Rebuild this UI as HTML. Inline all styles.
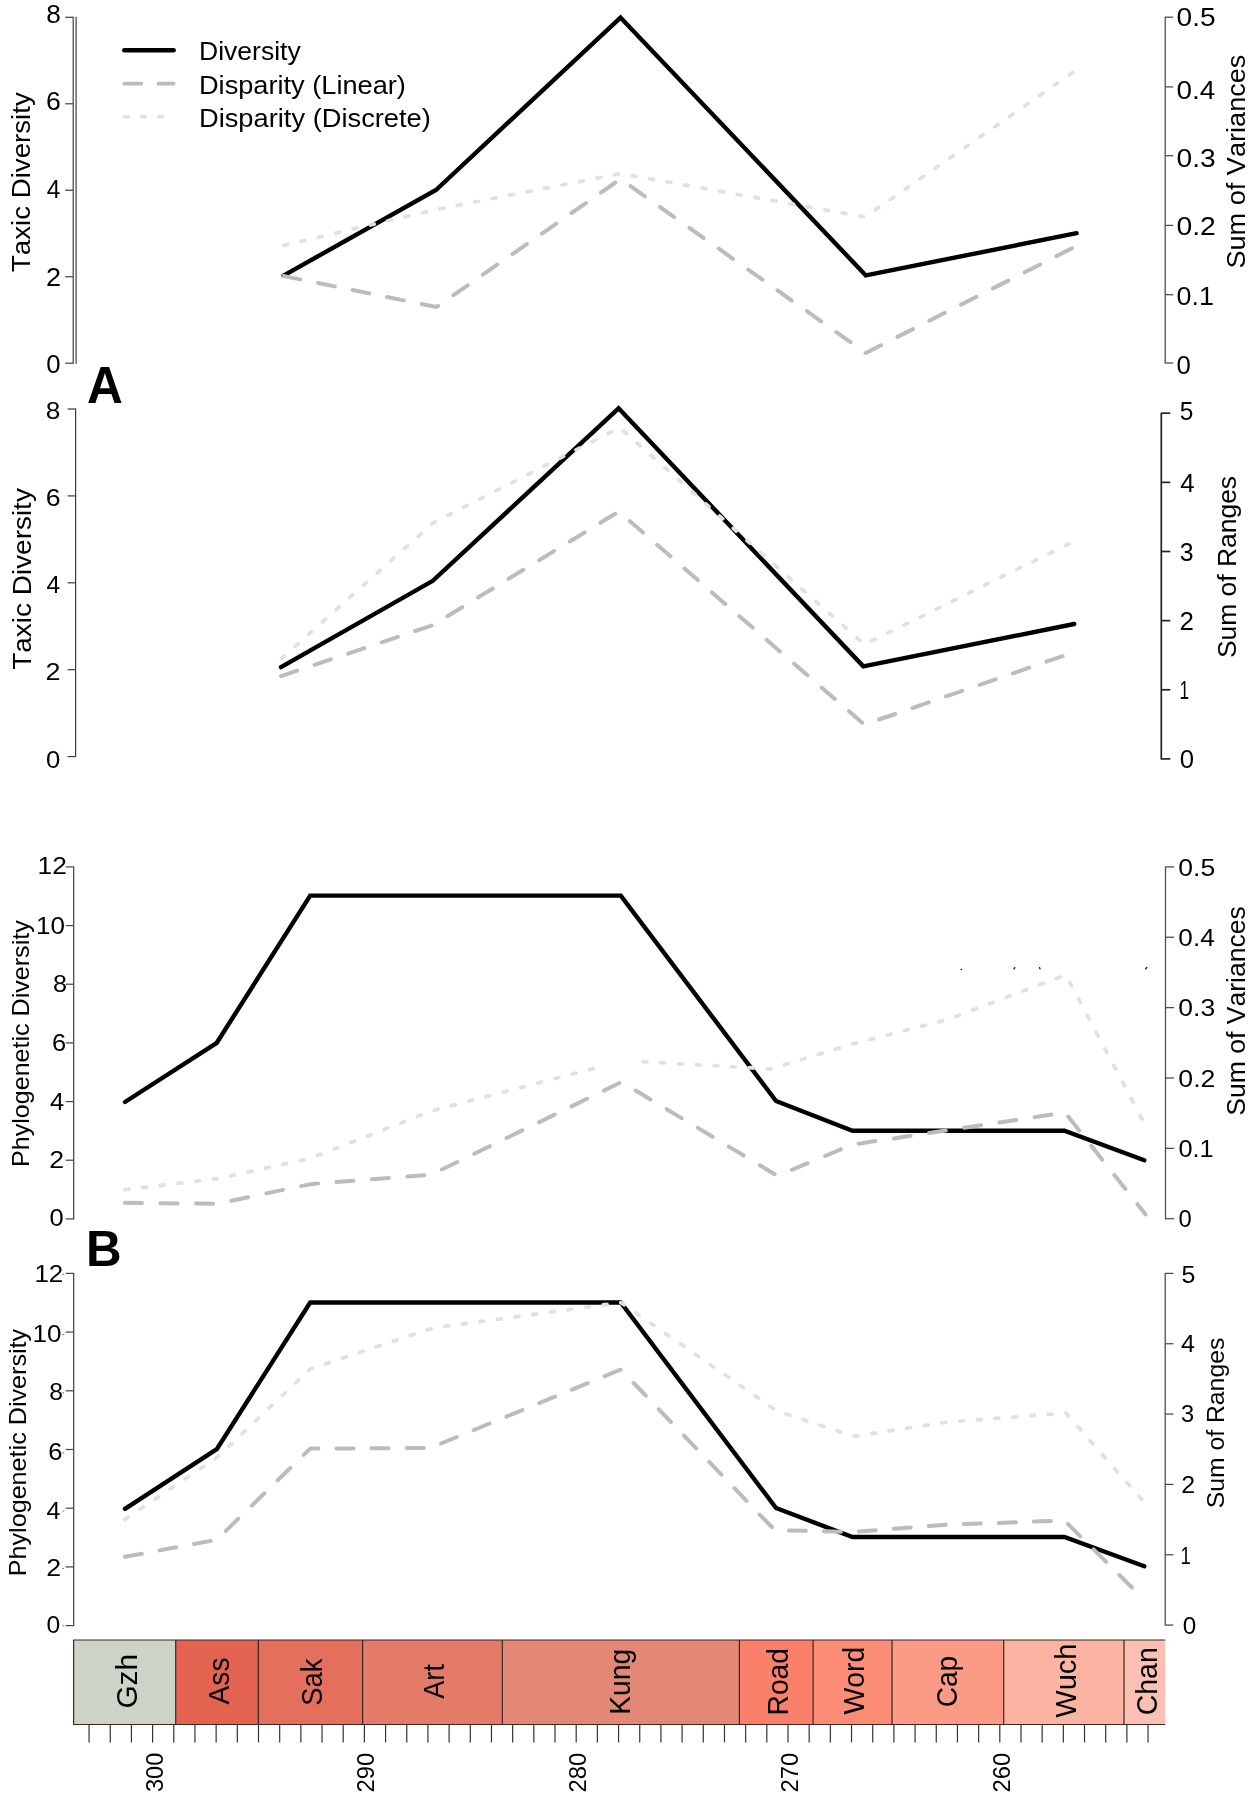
<!DOCTYPE html>
<html><head><meta charset="utf-8"><title>Figure</title>
<style>
html,body{margin:0;padding:0;background:#fff;}
body{width:1250px;height:1798px;overflow:hidden;font-family:"Liberation Sans",sans-serif;}
svg{display:block;will-change:transform;}
svg text{font-family:"Liberation Sans",sans-serif;font-kerning:none;}
</style></head><body>
<svg width="1250" height="1798" viewBox="0 0 1250 1798">
<rect width="1250" height="1798" fill="#fff"/>
<line x1="76.1" y1="16.8" x2="76.1" y2="363.7" stroke="#484848" stroke-width="1.25"/>
<line x1="73.19999999999999" y1="16.8" x2="73.19999999999999" y2="363.7" stroke="#484848" stroke-width="1.25"/>
<line x1="65.19999999999999" y1="17.3" x2="73.19999999999999" y2="17.3" stroke="#484848" stroke-width="1.25"/>
<text x="46.16" y="22.88" font-size="25.5" textLength="14.58" lengthAdjust="spacingAndGlyphs" fill="#000">8</text>
<line x1="65.19999999999999" y1="103.77499999999999" x2="73.19999999999999" y2="103.77499999999999" stroke="#484848" stroke-width="1.25"/>
<text x="45.95" y="110.48" font-size="25.5" textLength="14.83" lengthAdjust="spacingAndGlyphs" fill="#000">6</text>
<line x1="65.19999999999999" y1="190.25" x2="73.19999999999999" y2="190.25" stroke="#484848" stroke-width="1.25"/>
<text x="46.74" y="198.08" font-size="25.5" textLength="13.58" lengthAdjust="spacingAndGlyphs" fill="#000">4</text>
<line x1="65.19999999999999" y1="276.72499999999997" x2="73.19999999999999" y2="276.72499999999997" stroke="#484848" stroke-width="1.25"/>
<text x="45.94" y="285.68" font-size="25.5" textLength="15.02" lengthAdjust="spacingAndGlyphs" fill="#000">2</text>
<line x1="65.19999999999999" y1="363.2" x2="73.19999999999999" y2="363.2" stroke="#484848" stroke-width="1.25"/>
<text x="46.29" y="373.28" font-size="25.5" textLength="14.31" lengthAdjust="spacingAndGlyphs" fill="#000">0</text>
<line x1="1165.2" y1="16.7" x2="1165.2" y2="363.5" stroke="#484848" stroke-width="1.25"/>
<line x1="1165.2" y1="17.2" x2="1173.2" y2="17.2" stroke="#484848" stroke-width="1.25"/>
<text x="1176.50" y="26.28" font-size="25.5" textLength="39.08" lengthAdjust="spacingAndGlyphs" fill="#000">0.5</text>
<line x1="1165.2" y1="86.9" x2="1173.2" y2="86.9" stroke="#484848" stroke-width="1.25"/>
<text x="1176.51" y="98.58" font-size="25.5" textLength="38.70" lengthAdjust="spacingAndGlyphs" fill="#000">0.4</text>
<line x1="1165.2" y1="155.7" x2="1173.2" y2="155.7" stroke="#484848" stroke-width="1.25"/>
<text x="1176.50" y="166.78" font-size="25.5" textLength="39.14" lengthAdjust="spacingAndGlyphs" fill="#000">0.3</text>
<line x1="1165.2" y1="225.4" x2="1173.2" y2="225.4" stroke="#484848" stroke-width="1.25"/>
<text x="1176.49" y="235.28" font-size="25.5" textLength="39.33" lengthAdjust="spacingAndGlyphs" fill="#000">0.2</text>
<line x1="1165.2" y1="294.7" x2="1173.2" y2="294.7" stroke="#484848" stroke-width="1.25"/>
<text x="1176.55" y="304.98" font-size="25.5" textLength="37.36" lengthAdjust="spacingAndGlyphs" fill="#000">0.1</text>
<line x1="1165.2" y1="363.0" x2="1173.2" y2="363.0" stroke="#484848" stroke-width="1.25"/>
<text x="1176.59" y="373.88" font-size="25.5" textLength="14.31" lengthAdjust="spacingAndGlyphs" fill="#000">0</text>
<text transform="translate(30.10 272.02) rotate(-90)" x="0" y="0" font-size="26.5" textLength="179.78" lengthAdjust="spacingAndGlyphs" fill="#000">Taxic Diversity</text>
<text transform="translate(1244.70 268.53) rotate(-90)" x="0" y="0" font-size="26.5" textLength="213.91" lengthAdjust="spacingAndGlyphs" fill="#000">Sum of Variances</text>
<polyline points="283.5,275.6 436.0,190.0 620.5,17.6 865.8,275.4 1076.6,233.2" fill="none" stroke="#000" stroke-width="4.4" stroke-linejoin="miter" stroke-linecap="round"/>
<path d="M283.5 276.0L300.2 279.4M318.0 283.0L334.8 286.4M352.6 290.0L369.3 293.4M387.1 297.0L403.8 300.4M421.7 304.0L436.4 307.0L438.1 305.8M453.4 295.2L467.7 285.3M482.9 274.7L497.2 264.7M512.5 254.1L526.8 244.2M542.0 233.6L556.3 223.6M571.6 213.0L585.9 203.1M601.1 192.5L615.4 182.5M630.6 186.2L644.8 196.3M660.0 207.0L674.2 217.1M689.4 227.9L703.6 238.0M718.8 248.7L733.0 258.8M748.2 269.6L762.4 279.6M777.5 290.4L791.7 300.5M806.9 311.2L821.1 321.3M836.3 332.1L850.5 342.2M865.7 352.9L865.8 353.0L881.0 345.3M897.5 336.9L912.9 329.1M929.3 320.7L944.7 312.9M961.1 304.6L976.5 296.8M992.9 288.4L1008.3 280.6M1024.7 272.3L1040.1 264.5M1056.5 256.1L1071.9 248.3" fill="none" stroke="#bcbcbc" stroke-width="4.0" stroke-linejoin="round" stroke-linecap="round"/>
<path d="M283.7 245.4L287.5 244.5M301.0 241.3L304.9 240.4M318.4 237.2L322.2 236.4M335.7 233.2L339.5 232.3M353.1 229.1L356.9 228.2M370.4 225.0L374.2 224.1M387.8 220.9L391.6 220.0M405.1 216.9L408.9 216.0M422.5 212.8L426.3 211.9M439.8 208.9L443.7 208.1M457.3 205.4L461.1 204.7M474.8 202.0L478.6 201.3M492.2 198.6L496.1 197.9M509.7 195.2L513.5 194.5M527.2 191.8L531.0 191.1M544.6 188.4L548.5 187.7M562.1 185.0L565.9 184.2M579.6 181.6L583.4 180.8M597.0 178.2L600.9 177.4M614.5 174.8L618.3 174.0M632.0 175.6L635.8 176.3M649.5 178.7L653.4 179.4M667.0 181.9L670.9 182.5M684.5 185.0L688.4 185.6M702.1 188.1L705.9 188.7M719.6 191.2L723.4 191.9M737.1 194.3L740.9 195.0M754.6 197.4L758.4 198.1M772.1 200.5L776.0 201.2M789.6 203.6L793.5 204.3M807.1 206.7L811.0 207.4M824.7 209.8L828.5 210.5M842.2 212.9L846.0 213.6M859.7 216.0L863.5 216.7M875.4 209.9L878.7 207.6M890.3 199.5L893.6 197.2M905.3 189.1L908.5 186.8M920.2 178.7L923.5 176.4M935.1 168.3L938.4 166.0M950.0 157.9L953.3 155.6M964.9 147.5L968.2 145.2M979.8 137.1L983.1 134.9M994.8 126.8L998.0 124.5M1009.7 116.4L1013.0 114.1M1024.6 106.0L1027.9 103.7M1039.5 95.6L1042.8 93.3M1054.4 85.2L1057.7 82.9M1069.3 74.8L1072.6 72.5" fill="none" stroke="#e1e1e1" stroke-width="3.8" stroke-linejoin="round" stroke-linecap="round"/>
<line x1="124.3" y1="50.2" x2="173.6" y2="50.2" stroke="#000" stroke-width="4.6" stroke-linecap="round"/>
<path d="M124.3 83.7L141.2 83.7M158.6 83.7L173.6 83.7" fill="none" stroke="#bcbcbc" stroke-width="3.8" stroke-linecap="round"/>
<path d="M124.3 116.7L128.2 116.7M141.5 116.7L145.4 116.7M158.7 116.7L162.6 116.7" fill="none" stroke="#e1e1e1" stroke-width="3.5" stroke-linecap="round"/>
<text x="199.02" y="60.20" font-size="26" textLength="101.73" lengthAdjust="spacingAndGlyphs" fill="#000">Diversity</text>
<text x="198.97" y="94.20" font-size="26" textLength="206.91" lengthAdjust="spacingAndGlyphs" fill="#000">Disparity (Linear)</text>
<text x="198.96" y="127.10" font-size="26" textLength="231.93" lengthAdjust="spacingAndGlyphs" fill="#000">Disparity (Discrete)</text>
<text x="86.96" y="403.00" font-size="51" textLength="35.84" lengthAdjust="spacingAndGlyphs" font-weight="bold" fill="#000">A</text>
<line x1="75.6" y1="408.5" x2="75.6" y2="757.1" stroke="#3a3a3a" stroke-width="1.2"/>
<line x1="67.6" y1="409.0" x2="75.6" y2="409.0" stroke="#3a3a3a" stroke-width="1.2"/>
<text x="45.86" y="418.82" font-size="24.5" textLength="14.58" lengthAdjust="spacingAndGlyphs" fill="#000">8</text>
<line x1="67.6" y1="495.9" x2="75.6" y2="495.9" stroke="#3a3a3a" stroke-width="1.2"/>
<text x="45.65" y="506.02" font-size="24.5" textLength="14.83" lengthAdjust="spacingAndGlyphs" fill="#000">6</text>
<line x1="67.6" y1="582.8" x2="75.6" y2="582.8" stroke="#3a3a3a" stroke-width="1.2"/>
<text x="46.44" y="593.22" font-size="24.5" textLength="13.58" lengthAdjust="spacingAndGlyphs" fill="#000">4</text>
<line x1="67.6" y1="669.7" x2="75.6" y2="669.7" stroke="#3a3a3a" stroke-width="1.2"/>
<text x="45.64" y="680.42" font-size="24.5" textLength="15.02" lengthAdjust="spacingAndGlyphs" fill="#000">2</text>
<line x1="67.6" y1="756.6" x2="75.6" y2="756.6" stroke="#3a3a3a" stroke-width="1.2"/>
<text x="45.99" y="767.62" font-size="24.5" textLength="14.31" lengthAdjust="spacingAndGlyphs" fill="#000">0</text>
<line x1="1161.3" y1="412.7" x2="1161.3" y2="759.4" stroke="#222" stroke-width="1.7"/>
<line x1="1161.3" y1="413.2" x2="1170.3" y2="413.2" stroke="#222" stroke-width="1.7"/>
<text x="1179.82" y="420.01" font-size="25.3" textLength="13.61" lengthAdjust="spacingAndGlyphs" fill="#000">5</text>
<line x1="1161.3" y1="482.34" x2="1170.3" y2="482.34" stroke="#222" stroke-width="1.7"/>
<text x="1180.21" y="492.01" font-size="25.3" textLength="14.35" lengthAdjust="spacingAndGlyphs" fill="#000">4</text>
<line x1="1161.3" y1="551.48" x2="1170.3" y2="551.48" stroke="#222" stroke-width="1.7"/>
<text x="1179.85" y="561.11" font-size="25.3" textLength="13.84" lengthAdjust="spacingAndGlyphs" fill="#000">3</text>
<line x1="1161.3" y1="620.62" x2="1170.3" y2="620.62" stroke="#222" stroke-width="1.7"/>
<text x="1179.50" y="630.11" font-size="25.3" textLength="14.41" lengthAdjust="spacingAndGlyphs" fill="#000">2</text>
<line x1="1161.3" y1="689.76" x2="1170.3" y2="689.76" stroke="#222" stroke-width="1.7"/>
<text x="1179.47" y="699.41" font-size="25.3" textLength="9.67" lengthAdjust="spacingAndGlyphs" fill="#000">1</text>
<line x1="1161.3" y1="758.9" x2="1170.3" y2="758.9" stroke="#222" stroke-width="1.7"/>
<text x="1179.79" y="768.01" font-size="25.3" textLength="14.31" lengthAdjust="spacingAndGlyphs" fill="#000">0</text>
<text transform="translate(30.60 669.73) rotate(-90)" x="0" y="0" font-size="26.2" textLength="181.58" lengthAdjust="spacingAndGlyphs" fill="#000">Taxic Diversity</text>
<text transform="translate(1235.50 658.10) rotate(-90)" x="0" y="0" font-size="26.5" textLength="182.15" lengthAdjust="spacingAndGlyphs" fill="#000">Sum of Ranges</text>
<polyline points="281.0,667.2 432.8,580.8 618.6,408.3 863.3,666.3 1074.2,624.0" fill="none" stroke="#000" stroke-width="4.4" stroke-linejoin="miter" stroke-linecap="round"/>
<path d="M281.0 676.2L297.2 670.7M314.6 664.9L330.8 659.4M348.1 653.6L364.3 648.2M381.7 642.3L397.9 636.9M415.2 631.0L431.5 625.6M447.4 616.2L462.2 607.2M478.0 597.5L492.8 588.5M508.6 578.8L523.4 569.8M539.2 560.2L554.0 551.1M569.8 541.5L584.6 532.5M600.4 522.8L615.2 513.8M629.7 521.1L643.0 532.6M657.1 544.8L670.4 556.3M684.5 568.6L697.8 580.1M711.9 592.4L725.2 603.9M739.4 616.2L752.6 627.6M766.8 639.9L780.0 651.4M794.2 663.7L807.4 675.2M821.6 687.5L834.8 699.0M849.0 711.2L862.2 722.7M879.0 719.5L895.2 714.0M912.5 708.0L928.7 702.4M946.0 696.4L962.2 690.8M979.5 684.9L995.7 679.3M1013.0 673.3L1029.2 667.7M1046.4 661.7L1062.6 656.2" fill="none" stroke="#bcbcbc" stroke-width="4.0" stroke-linejoin="round" stroke-linecap="round"/>
<path d="M281.5 658.6L284.5 655.9M295.2 646.4L298.2 643.7M308.8 634.1L311.8 631.4M322.5 621.9L325.5 619.2M336.2 609.7L339.2 607.0M349.8 597.4L352.8 594.8M363.5 585.2L366.5 582.5M377.2 573.0L380.2 570.3M390.8 560.7L393.8 558.1M404.5 548.5L407.5 545.8M418.2 536.3L421.2 533.6M431.8 524.0L433.0 523.0L435.2 521.9M447.7 515.5L451.2 513.7M463.7 507.3L467.2 505.5M479.8 499.1L483.3 497.3M495.8 490.9L499.3 489.1M511.8 482.7L515.4 480.9M527.9 474.5L531.4 472.7M543.9 466.3L547.5 464.5M560.0 458.1L563.5 456.3M576.0 449.9L579.5 448.1M592.1 441.7L595.6 439.9M608.1 433.5L611.6 431.7M623.5 431.0L626.5 433.7M637.2 443.2L640.2 445.9M650.9 455.4L654.0 458.0M664.7 467.5L667.7 470.2M678.4 479.7L681.4 482.3M692.1 491.8L695.1 494.5M705.8 504.0L708.9 506.7M719.6 516.1L722.6 518.8M733.3 528.3L736.3 531.0M747.0 540.4L750.0 543.1M760.7 552.6L763.8 555.3M774.5 564.8L777.5 567.4M788.2 576.9L791.2 579.6M801.9 589.1L804.9 591.7M815.6 601.2L818.7 603.9M829.4 613.4L832.4 616.1M843.1 625.5L846.1 628.2M856.8 637.7L859.8 640.4M871.6 641.0L875.2 639.2M887.8 633.0L891.3 631.3M903.9 625.1L907.5 623.3M920.1 617.1L923.6 615.4M936.2 609.2L939.7 607.4M952.3 601.2L955.9 599.4M968.5 593.2L972.0 591.5M984.6 585.3L988.2 583.5M1000.8 577.3L1004.3 575.6M1016.9 569.4L1020.5 567.6M1033.1 561.4L1036.6 559.7M1049.2 553.4L1052.8 551.7M1065.4 545.5L1068.9 543.7" fill="none" stroke="#e1e1e1" stroke-width="3.8" stroke-linejoin="round" stroke-linecap="round"/>
<line x1="73.7" y1="866.4" x2="73.7" y2="1219.4" stroke="#484848" stroke-width="1.25"/>
<line x1="65.7" y1="866.9" x2="73.7" y2="866.9" stroke="#484848" stroke-width="1.25"/>
<text x="37.59" y="873.93" font-size="23.4" textLength="29.34" lengthAdjust="spacingAndGlyphs" fill="#000">12</text>
<line x1="65.7" y1="925.5666666666666" x2="73.7" y2="925.5666666666666" stroke="#484848" stroke-width="1.25"/>
<text x="36.01" y="933.73" font-size="23.4" textLength="29.00" lengthAdjust="spacingAndGlyphs" fill="#000">10</text>
<line x1="65.7" y1="984.2333333333333" x2="73.7" y2="984.2333333333333" stroke="#484848" stroke-width="1.25"/>
<text x="52.91" y="992.13" font-size="23.4" textLength="13.99" lengthAdjust="spacingAndGlyphs" fill="#000">8</text>
<line x1="65.7" y1="1042.9" x2="73.7" y2="1042.9" stroke="#484848" stroke-width="1.25"/>
<text x="51.90" y="1051.43" font-size="23.4" textLength="14.22" lengthAdjust="spacingAndGlyphs" fill="#000">6</text>
<line x1="65.7" y1="1101.5666666666666" x2="73.7" y2="1101.5666666666666" stroke="#484848" stroke-width="1.25"/>
<text x="50.12" y="1110.43" font-size="23.4" textLength="14.13" lengthAdjust="spacingAndGlyphs" fill="#000">4</text>
<line x1="65.7" y1="1160.2333333333333" x2="73.7" y2="1160.2333333333333" stroke="#484848" stroke-width="1.25"/>
<text x="49.25" y="1167.83" font-size="23.4" textLength="14.89" lengthAdjust="spacingAndGlyphs" fill="#000">2</text>
<line x1="65.7" y1="1218.9" x2="73.7" y2="1218.9" stroke="#484848" stroke-width="1.25"/>
<text x="49.60" y="1225.63" font-size="23.4" textLength="14.19" lengthAdjust="spacingAndGlyphs" fill="#000">0</text>
<line x1="1165.5" y1="866.4" x2="1165.5" y2="1219.2" stroke="#484848" stroke-width="1.25"/>
<line x1="1165.5" y1="866.9" x2="1174.0" y2="866.9" stroke="#484848" stroke-width="1.25"/>
<text x="1178.36" y="875.66" font-size="23.2" textLength="36.85" lengthAdjust="spacingAndGlyphs" fill="#000">0.5</text>
<line x1="1165.5" y1="937.26" x2="1174.0" y2="937.26" stroke="#484848" stroke-width="1.25"/>
<text x="1178.38" y="946.02" font-size="23.2" textLength="36.28" lengthAdjust="spacingAndGlyphs" fill="#000">0.4</text>
<line x1="1165.5" y1="1007.62" x2="1174.0" y2="1007.62" stroke="#484848" stroke-width="1.25"/>
<text x="1178.36" y="1016.38" font-size="23.2" textLength="36.90" lengthAdjust="spacingAndGlyphs" fill="#000">0.3</text>
<line x1="1165.5" y1="1077.98" x2="1174.0" y2="1077.98" stroke="#484848" stroke-width="1.25"/>
<text x="1178.36" y="1086.74" font-size="23.2" textLength="37.08" lengthAdjust="spacingAndGlyphs" fill="#000">0.2</text>
<line x1="1165.5" y1="1148.3400000000001" x2="1174.0" y2="1148.3400000000001" stroke="#484848" stroke-width="1.25"/>
<text x="1178.41" y="1157.10" font-size="23.2" textLength="35.23" lengthAdjust="spacingAndGlyphs" fill="#000">0.1</text>
<line x1="1165.5" y1="1218.7" x2="1174.0" y2="1218.7" stroke="#484848" stroke-width="1.25"/>
<text x="1178.47" y="1227.46" font-size="23.2" textLength="13.26" lengthAdjust="spacingAndGlyphs" fill="#000">0</text>
<text transform="translate(29.30 1166.96) rotate(-90)" x="0" y="0" font-size="23.7" textLength="246.71" lengthAdjust="spacingAndGlyphs" fill="#000">Phylogenetic Diversity</text>
<text transform="translate(1245.00 1115.81) rotate(-90)" x="0" y="0" font-size="26.5" textLength="209.67" lengthAdjust="spacingAndGlyphs" fill="#000">Sum of Variances</text>
<polyline points="125.0,1102.0 216.8,1042.8 310.2,895.6 620.8,895.6 776.0,1101.0 852.5,1130.8 1064.4,1130.8 1144.3,1160.2" fill="none" stroke="#000" stroke-width="4.4" stroke-linejoin="miter" stroke-linecap="round"/>
<path d="M125.0 1202.8L142.0 1203.0M160.5 1203.2L177.5 1203.4M196.1 1203.6L213.1 1203.8M231.4 1200.8L248.1 1197.3M266.3 1193.4L283.0 1189.9M301.2 1186.1L310.3 1184.2L318.0 1183.6M336.5 1182.1L353.4 1180.8M371.9 1179.3L388.9 1178.0M407.4 1176.5L424.3 1175.2M441.9 1169.5L457.4 1162.0M474.3 1153.8L489.8 1146.2M506.7 1138.0L522.2 1130.4M539.1 1122.2L554.6 1114.6M571.5 1106.4L587.0 1098.8M603.9 1090.6L619.4 1083.0M635.7 1090.5L650.5 1099.5M666.7 1109.2L681.6 1118.1M697.8 1127.9L712.6 1136.8M728.8 1146.6L743.7 1155.5M759.9 1165.3L774.7 1174.2M791.9 1169.8L807.7 1163.2M825.1 1156.0L840.9 1149.4M858.6 1143.7L875.4 1141.1M893.8 1138.4L910.6 1135.8M929.0 1133.1L945.8 1130.5M964.2 1127.8L981.1 1125.2M999.4 1122.5L1016.3 1119.9M1034.6 1117.2L1051.5 1114.6M1068.2 1116.6L1079.2 1130.6M1091.3 1145.8L1102.3 1159.8M1114.4 1175.0L1125.4 1189.0M1137.4 1204.2L1145.6 1214.5" fill="none" stroke="#bcbcbc" stroke-width="4.0" stroke-linejoin="round" stroke-linecap="round"/>
<path d="M125.0 1189.6L128.9 1189.1M142.6 1187.5L146.5 1187.1M160.3 1185.5L164.2 1185.0M177.9 1183.4L181.8 1182.9M195.6 1181.3L199.5 1180.9M213.2 1179.2L217.0 1178.8L217.1 1178.8M230.7 1175.8L234.5 1175.0M248.1 1172.0L251.9 1171.2M265.5 1168.2L269.3 1167.4M282.9 1164.4L286.7 1163.6M300.3 1160.6L304.1 1159.8M317.4 1155.6L321.0 1154.2M334.1 1149.1L337.7 1147.7M350.8 1142.6L354.4 1141.2M367.4 1136.1L371.1 1134.7M384.1 1129.6L387.8 1128.1M400.8 1123.1L404.5 1121.6M417.5 1116.5L421.2 1115.1M434.3 1110.2L438.0 1109.2M451.5 1105.7L455.3 1104.7M468.8 1101.2L472.6 1100.2M486.0 1096.7L489.8 1095.7M503.3 1092.1L507.1 1091.2M520.5 1087.6L524.3 1086.6M537.8 1083.1L541.6 1082.1M555.0 1078.6L558.8 1077.6M572.3 1074.1L576.1 1073.1M589.5 1069.6L593.3 1068.6" fill="none" stroke="#e1e1e1" stroke-width="3.8" stroke-linejoin="round" stroke-linecap="round"/>
<path d="M643.0 1061.6L646.9 1061.8M660.7 1062.6L664.6 1062.8M678.4 1063.6L682.3 1063.9M696.2 1064.7L700.1 1064.9M713.9 1065.7L717.8 1065.9M731.6 1066.7L735.5 1066.9M749.3 1067.7L753.2 1068.0M767.1 1068.8L771.0 1069.0M784.3 1064.9L788.0 1063.8M801.4 1059.7L805.1 1058.5M818.4 1054.4L822.2 1053.3M835.5 1049.2L839.3 1048.1M852.6 1044.0L856.4 1043.0M869.9 1039.5L873.7 1038.6M887.1 1035.1L890.9 1034.1M904.4 1030.7L908.2 1029.7M921.7 1026.2L925.5 1025.3M938.9 1021.8L942.7 1020.8M955.9 1016.4L959.6 1015.0M972.7 1010.1L976.4 1008.7M989.5 1003.8L993.1 1002.4M1006.2 997.4L1009.9 996.0M1023.0 991.1L1026.6 989.7M1039.7 984.8L1043.4 983.4M1056.5 978.4L1060.1 977.0M1069.7 982.3L1071.6 985.9M1078.5 998.9L1080.4 1002.6M1087.3 1015.6L1089.2 1019.2M1096.1 1032.2L1098.1 1035.9M1104.9 1048.9L1106.9 1052.5M1113.7 1065.5L1115.7 1069.2M1122.5 1082.1L1124.5 1085.8M1131.3 1098.8L1133.3 1102.4M1140.1 1115.4L1142.1 1119.1" fill="none" stroke="#e1e1e1" stroke-width="3.8" stroke-linejoin="round" stroke-linecap="round"/>
<line x1="961" y1="969.3" x2="961.6" y2="969.3" stroke="#111" stroke-width="1.3" stroke-linecap="round"/>
<line x1="1014" y1="968.8" x2="1014.8" y2="967.5999999999999" stroke="#111" stroke-width="1.3" stroke-linecap="round"/>
<line x1="1040" y1="968.8" x2="1039.5" y2="967.5999999999999" stroke="#111" stroke-width="1.3" stroke-linecap="round"/>
<line x1="1145.6" y1="968.8" x2="1146.8" y2="967.4" stroke="#111" stroke-width="1.3" stroke-linecap="round"/>
<text x="85.90" y="1266.20" font-size="49.6" textLength="35.64" lengthAdjust="spacingAndGlyphs" font-weight="bold" fill="#000">B</text>
<line x1="73.7" y1="1272.9" x2="73.7" y2="1626.1" stroke="#484848" stroke-width="1.25"/>
<line x1="65.7" y1="1273.4" x2="73.7" y2="1273.4" stroke="#484848" stroke-width="1.25"/>
<text x="34.42" y="1281.97" font-size="23.5" textLength="28.88" lengthAdjust="spacingAndGlyphs" fill="#000">12</text>
<line x1="65.7" y1="1332.1000000000001" x2="73.7" y2="1332.1000000000001" stroke="#484848" stroke-width="1.25"/>
<text x="32.41" y="1342.17" font-size="23.5" textLength="29.00" lengthAdjust="spacingAndGlyphs" fill="#000">10</text>
<line x1="65.7" y1="1390.8" x2="73.7" y2="1390.8" stroke="#484848" stroke-width="1.25"/>
<text x="49.33" y="1400.37" font-size="23.5" textLength="13.75" lengthAdjust="spacingAndGlyphs" fill="#000">8</text>
<line x1="65.7" y1="1449.5" x2="73.7" y2="1449.5" stroke="#484848" stroke-width="1.25"/>
<text x="48.20" y="1460.37" font-size="23.5" textLength="14.22" lengthAdjust="spacingAndGlyphs" fill="#000">6</text>
<line x1="65.7" y1="1508.2" x2="73.7" y2="1508.2" stroke="#484848" stroke-width="1.25"/>
<text x="46.63" y="1518.57" font-size="23.5" textLength="13.91" lengthAdjust="spacingAndGlyphs" fill="#000">4</text>
<line x1="65.7" y1="1566.8999999999999" x2="73.7" y2="1566.8999999999999" stroke="#484848" stroke-width="1.25"/>
<text x="46.25" y="1575.97" font-size="23.5" textLength="14.89" lengthAdjust="spacingAndGlyphs" fill="#000">2</text>
<line x1="65.7" y1="1625.6" x2="73.7" y2="1625.6" stroke="#484848" stroke-width="1.25"/>
<text x="46.44" y="1633.37" font-size="23.5" textLength="13.73" lengthAdjust="spacingAndGlyphs" fill="#000">0</text>
<line x1="62.5" y1="1274.3999999999999" x2="64.2" y2="1274.3999999999999" stroke="#666" stroke-width="1.0"/>
<line x1="62.5" y1="1334.6" x2="64.2" y2="1334.6" stroke="#666" stroke-width="1.0"/>
<line x1="62.5" y1="1392.8" x2="64.2" y2="1392.8" stroke="#666" stroke-width="1.0"/>
<line x1="62.5" y1="1452.8" x2="64.2" y2="1452.8" stroke="#666" stroke-width="1.0"/>
<line x1="62.5" y1="1511.0" x2="64.2" y2="1511.0" stroke="#666" stroke-width="1.0"/>
<line x1="62.5" y1="1568.3999999999999" x2="64.2" y2="1568.3999999999999" stroke="#666" stroke-width="1.0"/>
<line x1="62.5" y1="1625.8" x2="64.2" y2="1625.8" stroke="#666" stroke-width="1.0"/>
<line x1="1165.2" y1="1272.9" x2="1165.2" y2="1625.6" stroke="#484848" stroke-width="1.25"/>
<line x1="1165.2" y1="1273.4" x2="1173.4" y2="1273.4" stroke="#484848" stroke-width="1.25"/>
<text x="1181.40" y="1282.73" font-size="23.4" textLength="13.84" lengthAdjust="spacingAndGlyphs" fill="#000">5</text>
<line x1="1165.2" y1="1343.74" x2="1173.4" y2="1343.74" stroke="#484848" stroke-width="1.25"/>
<text x="1181.03" y="1351.83" font-size="23.4" textLength="13.91" lengthAdjust="spacingAndGlyphs" fill="#000">4</text>
<line x1="1165.2" y1="1414.08" x2="1173.4" y2="1414.08" stroke="#484848" stroke-width="1.25"/>
<text x="1180.90" y="1422.23" font-size="23.4" textLength="13.14" lengthAdjust="spacingAndGlyphs" fill="#000">3</text>
<line x1="1165.2" y1="1484.42" x2="1173.4" y2="1484.42" stroke="#484848" stroke-width="1.25"/>
<text x="1181.34" y="1492.53" font-size="23.4" textLength="13.92" lengthAdjust="spacingAndGlyphs" fill="#000">2</text>
<line x1="1165.2" y1="1554.76" x2="1173.4" y2="1554.76" stroke="#484848" stroke-width="1.25"/>
<text x="1180.39" y="1564.33" font-size="23.4" textLength="10.32" lengthAdjust="spacingAndGlyphs" fill="#000">1</text>
<line x1="1165.2" y1="1625.1" x2="1173.4" y2="1625.1" stroke="#484848" stroke-width="1.25"/>
<text x="1182.85" y="1633.93" font-size="23.4" textLength="13.50" lengthAdjust="spacingAndGlyphs" fill="#000">0</text>
<text transform="translate(25.70 1576.26) rotate(-90)" x="0" y="0" font-size="23.6" textLength="247.41" lengthAdjust="spacingAndGlyphs" fill="#000">Phylogenetic Diversity</text>
<text transform="translate(1224.40 1508.32) rotate(-90)" x="0" y="0" font-size="24.6" textLength="170.62" lengthAdjust="spacingAndGlyphs" fill="#000">Sum of Ranges</text>
<polyline points="125.0,1508.8 216.8,1449.2 310.2,1302.5 620.8,1302.5 776.0,1508.0 852.5,1537.0 1064.4,1537.0 1144.3,1566.3" fill="none" stroke="#000" stroke-width="4.4" stroke-linejoin="miter" stroke-linecap="round"/>
<path d="M125.0 1556.8L141.8 1553.7M159.5 1550.4L176.3 1547.3M194.1 1544.0L210.8 1540.9M225.7 1531.1L238.3 1518.8M251.7 1505.7L264.3 1493.4M277.7 1480.3L290.3 1468.0M303.7 1454.9L310.2 1448.6L318.4 1448.6M336.5 1448.5L353.5 1448.4M371.5 1448.3L388.5 1448.2M406.6 1448.1L423.6 1448.0M440.9 1443.5L456.8 1437.0M473.6 1430.1L489.5 1423.5M506.4 1416.6L522.3 1410.1M539.2 1403.1L555.0 1396.6M571.9 1389.7L587.8 1383.2M604.7 1376.2L620.6 1369.7M633.6 1383.0L645.8 1395.7M658.8 1409.3L671.0 1422.0M684.0 1435.6L696.2 1448.3M709.2 1461.9L721.4 1474.6M734.4 1488.2L746.6 1500.9M759.6 1514.5L771.9 1527.2M788.9 1530.4L805.9 1530.8M823.9 1531.3L840.9 1531.7M858.9 1531.5L875.9 1530.2M893.9 1528.8L910.8 1527.5M928.9 1526.1L945.8 1524.8M963.8 1524.1L980.8 1523.5M998.9 1522.9L1015.9 1522.3M1033.9 1521.6L1050.9 1521.1M1067.8 1523.8L1080.3 1536.3M1093.6 1549.4L1106.1 1561.9M1119.4 1575.0L1131.9 1587.5" fill="none" stroke="#bcbcbc" stroke-width="4.0" stroke-linejoin="round" stroke-linecap="round"/>
<path d="M125.0 1519.4L128.3 1517.2M140.1 1509.2L143.4 1507.0M155.1 1499.1L158.4 1496.9M170.2 1488.9L173.5 1486.7M185.2 1478.8L188.5 1476.5M200.3 1468.6L203.6 1466.4M215.3 1458.5L217.5 1457.0L218.5 1456.0M228.9 1446.2L231.8 1443.4M242.2 1433.5L245.2 1430.7M255.6 1420.9L258.5 1418.1M268.9 1408.2L271.8 1405.4M282.2 1395.5L285.2 1392.8M295.6 1382.9L298.5 1380.1M308.9 1370.2L310.2 1369.0L312.3 1368.3M325.5 1363.9L329.2 1362.6M342.5 1358.2L346.2 1357.0M359.4 1352.6L363.1 1351.3M376.4 1346.9L380.1 1345.7M393.3 1341.2L397.1 1340.0M410.3 1335.6L414.0 1334.3M427.3 1329.9L431.0 1328.7M444.6 1326.4L448.5 1325.9M462.3 1324.0L466.1 1323.5M479.9 1321.7L483.7 1321.1M497.5 1319.3L501.4 1318.8M515.1 1316.9L519.0 1316.4M532.7 1314.5L536.6 1314.0M550.3 1312.1L554.2 1311.6M567.9 1309.8L571.8 1309.2M585.5 1307.4L589.4 1306.9M603.2 1305.0L607.0 1304.5M620.8 1302.6L621.0 1302.6L624.1 1304.7M635.7 1312.8L639.0 1315.1M650.7 1323.2L653.9 1325.5M665.6 1333.6L668.9 1335.9M680.5 1344.0L683.8 1346.2M695.4 1354.3L698.7 1356.6M710.4 1364.7L713.6 1367.0M725.3 1375.1L728.6 1377.4M740.2 1385.4L743.5 1387.7M755.2 1395.8L758.4 1398.1M770.1 1406.2L773.4 1408.5M786.1 1414.0L789.8 1415.2M803.1 1419.6L806.8 1420.9M820.0 1425.2L823.8 1426.5M837.0 1430.8L840.7 1432.1M854.0 1436.2L857.9 1435.6M871.6 1433.6L875.4 1433.0M889.2 1430.9L893.0 1430.3M906.7 1428.2L910.6 1427.6M924.3 1425.6L928.2 1425.0M941.9 1422.9L945.8 1422.3M959.6 1421.1L963.4 1420.8M977.3 1419.8L981.2 1419.5M995.0 1418.4L998.9 1418.1M1012.7 1417.1L1016.6 1416.8M1030.4 1415.7L1034.3 1415.4M1048.1 1414.4L1052.0 1414.1M1065.8 1413.0L1066.0 1413.0L1068.5 1415.9M1078.0 1426.8L1080.7 1429.8M1090.2 1440.7L1092.9 1443.8M1102.4 1454.7L1105.1 1457.7M1114.6 1468.6L1117.3 1471.7M1126.8 1482.5L1129.5 1485.6M1139.0 1496.5L1141.7 1499.5" fill="none" stroke="#e1e1e1" stroke-width="3.8" stroke-linejoin="round" stroke-linecap="round"/>
<rect x="73.6" y="1640.0" width="102.1" height="84.5" fill="#ccd4c7"/>
<rect x="175.7" y="1640.0" width="82.7" height="84.5" fill="#e36350"/>
<rect x="258.4" y="1640.0" width="104.2" height="84.5" fill="#e36f5c"/>
<rect x="362.6" y="1640.0" width="139.7" height="84.5" fill="#e37b68"/>
<rect x="502.3" y="1640.0" width="237.1" height="84.5" fill="#e38776"/>
<rect x="739.4" y="1640.0" width="73.7" height="84.5" fill="#fb8069"/>
<rect x="813.1" y="1640.0" width="78.9" height="84.5" fill="#fb8c76"/>
<rect x="892.0" y="1640.0" width="111.7" height="84.5" fill="#fb9a85"/>
<rect x="1003.7" y="1640.0" width="120.3" height="84.5" fill="#fcb4a2"/>
<rect x="1124.0" y="1640.0" width="41.2" height="84.5" fill="#fcc0b2"/>
<line x1="73.1" y1="1640.0" x2="1165.2" y2="1640.0" stroke="#3a2622" stroke-width="1.2"/>
<line x1="73.1" y1="1724.5" x2="1165.2" y2="1724.5" stroke="#3a2622" stroke-width="1.2"/>
<line x1="73.6" y1="1640.0" x2="73.6" y2="1724.5" stroke="#3a2622" stroke-width="1.2"/>
<line x1="175.7" y1="1640.0" x2="175.7" y2="1724.5" stroke="#3a2622" stroke-width="1.2"/>
<line x1="258.4" y1="1640.0" x2="258.4" y2="1724.5" stroke="#3a2622" stroke-width="1.2"/>
<line x1="362.6" y1="1640.0" x2="362.6" y2="1724.5" stroke="#3a2622" stroke-width="1.2"/>
<line x1="502.3" y1="1640.0" x2="502.3" y2="1724.5" stroke="#3a2622" stroke-width="1.2"/>
<line x1="739.4" y1="1640.0" x2="739.4" y2="1724.5" stroke="#3a2622" stroke-width="1.2"/>
<line x1="813.1" y1="1640.0" x2="813.1" y2="1724.5" stroke="#3a2622" stroke-width="1.2"/>
<line x1="892.0" y1="1640.0" x2="892.0" y2="1724.5" stroke="#3a2622" stroke-width="1.2"/>
<line x1="1003.7" y1="1640.0" x2="1003.7" y2="1724.5" stroke="#3a2622" stroke-width="1.2"/>
<line x1="1124.0" y1="1640.0" x2="1124.0" y2="1724.5" stroke="#3a2622" stroke-width="1.2"/>
<text transform="translate(136.55 1708.60) rotate(-90)" x="0" y="0" font-size="29" textLength="54.63" lengthAdjust="spacingAndGlyphs" fill="#000">Gzh</text>
<text transform="translate(228.95 1704.56) rotate(-90)" x="0" y="0" font-size="29" textLength="47.08" lengthAdjust="spacingAndGlyphs" fill="#000">Ass</text>
<text transform="translate(322.40 1705.74) rotate(-90)" x="0" y="0" font-size="29" textLength="47.20" lengthAdjust="spacingAndGlyphs" fill="#000">Sak</text>
<text transform="translate(444.35 1698.80) rotate(-90)" x="0" y="0" font-size="29" textLength="34.75" lengthAdjust="spacingAndGlyphs" fill="#000">Art</text>
<text transform="translate(629.55 1714.82) rotate(-90)" x="0" y="0" font-size="29" textLength="66.15" lengthAdjust="spacingAndGlyphs" fill="#000">Kung</text>
<text transform="translate(788.15 1715.46) rotate(-90)" x="0" y="0" font-size="29" textLength="67.43" lengthAdjust="spacingAndGlyphs" fill="#000">Road</text>
<text transform="translate(864.45 1714.52) rotate(-90)" x="0" y="0" font-size="29" textLength="67.75" lengthAdjust="spacingAndGlyphs" fill="#000">Word</text>
<text transform="translate(956.55 1707.32) rotate(-90)" x="0" y="0" font-size="29" textLength="51.40" lengthAdjust="spacingAndGlyphs" fill="#000">Cap</text>
<text transform="translate(1075.75 1717.73) rotate(-90)" x="0" y="0" font-size="29" textLength="74.21" lengthAdjust="spacingAndGlyphs" fill="#000">Wuch</text>
<text transform="translate(1156.50 1715.29) rotate(-90)" x="0" y="0" font-size="29" textLength="67.99" lengthAdjust="spacingAndGlyphs" fill="#000">Chan</text>
<line x1="89.06" y1="1724.5" x2="89.06" y2="1742.4" stroke="#333" stroke-width="1.2"/>
<line x1="110.24" y1="1724.5" x2="110.24" y2="1742.4" stroke="#333" stroke-width="1.2"/>
<line x1="131.42" y1="1724.5" x2="131.42" y2="1742.4" stroke="#333" stroke-width="1.2"/>
<line x1="152.60" y1="1724.5" x2="152.60" y2="1742.4" stroke="#333" stroke-width="1.2"/>
<line x1="173.78" y1="1724.5" x2="173.78" y2="1742.4" stroke="#333" stroke-width="1.2"/>
<line x1="194.96" y1="1724.5" x2="194.96" y2="1742.4" stroke="#333" stroke-width="1.2"/>
<line x1="216.14" y1="1724.5" x2="216.14" y2="1742.4" stroke="#333" stroke-width="1.2"/>
<line x1="237.32" y1="1724.5" x2="237.32" y2="1742.4" stroke="#333" stroke-width="1.2"/>
<line x1="258.50" y1="1724.5" x2="258.50" y2="1742.4" stroke="#333" stroke-width="1.2"/>
<line x1="279.68" y1="1724.5" x2="279.68" y2="1742.4" stroke="#333" stroke-width="1.2"/>
<line x1="300.86" y1="1724.5" x2="300.86" y2="1742.4" stroke="#333" stroke-width="1.2"/>
<line x1="322.04" y1="1724.5" x2="322.04" y2="1742.4" stroke="#333" stroke-width="1.2"/>
<line x1="343.22" y1="1724.5" x2="343.22" y2="1742.4" stroke="#333" stroke-width="1.2"/>
<line x1="364.40" y1="1724.5" x2="364.40" y2="1742.4" stroke="#333" stroke-width="1.2"/>
<line x1="385.58" y1="1724.5" x2="385.58" y2="1742.4" stroke="#333" stroke-width="1.2"/>
<line x1="406.76" y1="1724.5" x2="406.76" y2="1742.4" stroke="#333" stroke-width="1.2"/>
<line x1="427.94" y1="1724.5" x2="427.94" y2="1742.4" stroke="#333" stroke-width="1.2"/>
<line x1="449.12" y1="1724.5" x2="449.12" y2="1742.4" stroke="#333" stroke-width="1.2"/>
<line x1="470.30" y1="1724.5" x2="470.30" y2="1742.4" stroke="#333" stroke-width="1.2"/>
<line x1="491.48" y1="1724.5" x2="491.48" y2="1742.4" stroke="#333" stroke-width="1.2"/>
<line x1="512.66" y1="1724.5" x2="512.66" y2="1742.4" stroke="#333" stroke-width="1.2"/>
<line x1="533.84" y1="1724.5" x2="533.84" y2="1742.4" stroke="#333" stroke-width="1.2"/>
<line x1="555.02" y1="1724.5" x2="555.02" y2="1742.4" stroke="#333" stroke-width="1.2"/>
<line x1="576.20" y1="1724.5" x2="576.20" y2="1742.4" stroke="#333" stroke-width="1.2"/>
<line x1="597.38" y1="1724.5" x2="597.38" y2="1742.4" stroke="#333" stroke-width="1.2"/>
<line x1="618.56" y1="1724.5" x2="618.56" y2="1742.4" stroke="#333" stroke-width="1.2"/>
<line x1="639.74" y1="1724.5" x2="639.74" y2="1742.4" stroke="#333" stroke-width="1.2"/>
<line x1="660.92" y1="1724.5" x2="660.92" y2="1742.4" stroke="#333" stroke-width="1.2"/>
<line x1="682.10" y1="1724.5" x2="682.10" y2="1742.4" stroke="#333" stroke-width="1.2"/>
<line x1="703.28" y1="1724.5" x2="703.28" y2="1742.4" stroke="#333" stroke-width="1.2"/>
<line x1="724.46" y1="1724.5" x2="724.46" y2="1742.4" stroke="#333" stroke-width="1.2"/>
<line x1="745.64" y1="1724.5" x2="745.64" y2="1742.4" stroke="#333" stroke-width="1.2"/>
<line x1="766.82" y1="1724.5" x2="766.82" y2="1742.4" stroke="#333" stroke-width="1.2"/>
<line x1="788.00" y1="1724.5" x2="788.00" y2="1742.4" stroke="#333" stroke-width="1.2"/>
<line x1="809.18" y1="1724.5" x2="809.18" y2="1742.4" stroke="#333" stroke-width="1.2"/>
<line x1="830.36" y1="1724.5" x2="830.36" y2="1742.4" stroke="#333" stroke-width="1.2"/>
<line x1="851.54" y1="1724.5" x2="851.54" y2="1742.4" stroke="#333" stroke-width="1.2"/>
<line x1="872.72" y1="1724.5" x2="872.72" y2="1742.4" stroke="#333" stroke-width="1.2"/>
<line x1="893.90" y1="1724.5" x2="893.90" y2="1742.4" stroke="#333" stroke-width="1.2"/>
<line x1="915.08" y1="1724.5" x2="915.08" y2="1742.4" stroke="#333" stroke-width="1.2"/>
<line x1="936.26" y1="1724.5" x2="936.26" y2="1742.4" stroke="#333" stroke-width="1.2"/>
<line x1="957.44" y1="1724.5" x2="957.44" y2="1742.4" stroke="#333" stroke-width="1.2"/>
<line x1="978.62" y1="1724.5" x2="978.62" y2="1742.4" stroke="#333" stroke-width="1.2"/>
<line x1="999.80" y1="1724.5" x2="999.80" y2="1742.4" stroke="#333" stroke-width="1.2"/>
<line x1="1020.98" y1="1724.5" x2="1020.98" y2="1742.4" stroke="#333" stroke-width="1.2"/>
<line x1="1042.16" y1="1724.5" x2="1042.16" y2="1742.4" stroke="#333" stroke-width="1.2"/>
<line x1="1063.34" y1="1724.5" x2="1063.34" y2="1742.4" stroke="#333" stroke-width="1.2"/>
<line x1="1084.52" y1="1724.5" x2="1084.52" y2="1742.4" stroke="#333" stroke-width="1.2"/>
<line x1="1105.70" y1="1724.5" x2="1105.70" y2="1742.4" stroke="#333" stroke-width="1.2"/>
<line x1="1126.88" y1="1724.5" x2="1126.88" y2="1742.4" stroke="#333" stroke-width="1.2"/>
<line x1="1148.06" y1="1724.5" x2="1148.06" y2="1742.4" stroke="#333" stroke-width="1.2"/>
<text transform="translate(162.60 1792.10) rotate(-90)" x="0" y="0" font-size="24" textLength="39.42" lengthAdjust="spacingAndGlyphs" fill="#000">300</text>
<text transform="translate(374.40 1792.40) rotate(-90)" x="0" y="0" font-size="24" textLength="39.73" lengthAdjust="spacingAndGlyphs" fill="#000">290</text>
<text transform="translate(586.20 1792.40) rotate(-90)" x="0" y="0" font-size="24" textLength="39.73" lengthAdjust="spacingAndGlyphs" fill="#000">280</text>
<text transform="translate(798.00 1792.40) rotate(-90)" x="0" y="0" font-size="24" textLength="39.73" lengthAdjust="spacingAndGlyphs" fill="#000">270</text>
<text transform="translate(1009.80 1792.40) rotate(-90)" x="0" y="0" font-size="24" textLength="39.73" lengthAdjust="spacingAndGlyphs" fill="#000">260</text>
</svg>
</body></html>
